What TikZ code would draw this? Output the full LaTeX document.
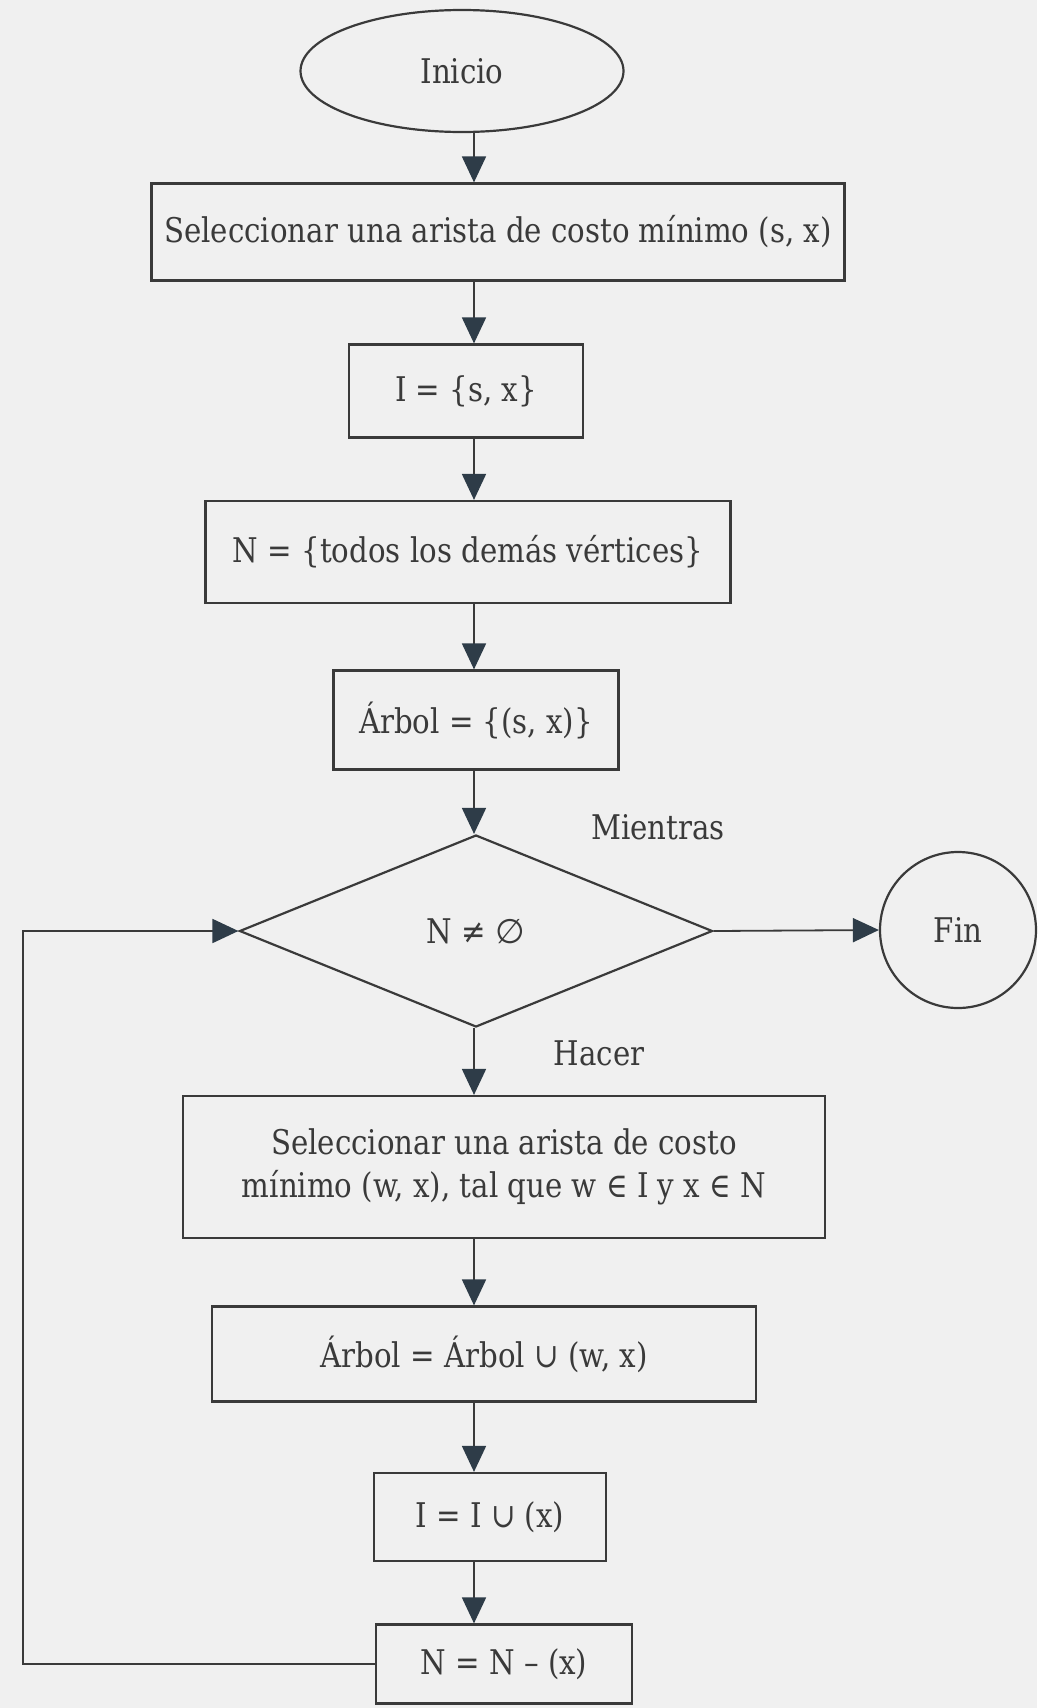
\documentclass[tikz,border=0pt]{standalone}
\usepackage{fontspec}
\setmainfont{DejaVu Serif}[FakeStretch=0.86]
\newfontfamily\symfont{DejaVu Sans}
\usetikzlibrary{arrows.meta,shapes.geometric}
\definecolor{cPaper}{RGB}{240,240,240}
\definecolor{cInk}{RGB}{58,58,58}
\definecolor{cTip}{RGB}{46,60,72}

\begin{document}
\begin{tikzpicture}[x=1pt, y=-1pt,
  base/.style={draw=cInk, line width=2.2pt, text=cInk, inner sep=0pt, align=center,
    font=\fontsize{34}{43}\selectfont},
  proc/.style={base, rectangle},
  term/.style={base, ellipse},
  test/.style={base, diamond, aspect=2.4},
  lbl/.style={text=cInk, inner sep=0pt, font=\fontsize{34}{43}\selectfont},
  arr/.style={draw=cInk, line width=1.8pt, -{Triangle[length=26pt, width=24pt, color=cTip]}}]
  % page
  \fill[cPaper] (0,0) rectangle (1037,1708);
  \useasboundingbox (0,0) rectangle (1037,1708);
  \coordinate (axis) at (474,0);
  \coordinate (back) at (23,0);
  % steps
  \node[term, minimum width=323pt, minimum height=122pt] (ini) at (462,71) {Inicio};
  \node[proc, minimum width=693pt, minimum height=97pt] (sel1) at (498,232) {Seleccionar una arista de costo mínimo (s, x)};
  \node[proc, minimum width=234pt, minimum height=93pt] (iset) at (466,391) {I = \{s, x\}};
  \node[proc, minimum width=525pt, minimum height=102pt] (nset) at (468,552) {N = \{todos los demás vértices\}};
  \node[proc, minimum width=285pt, minimum height=99pt] (arb) at (476,720) {Árbol = \{(s, x)\}};
  \node[test, minimum width=473pt, minimum height=192pt] (cond) at (476,931) {N ≠ {\symfont ∅}};
  \node[base, circle, minimum size=156pt] (fin) at (958,930) {Fin};
  \node[proc, minimum width=642pt, minimum height=142pt] (sel2) at (504,1167) {Seleccionar una arista de costo\\mínimo (w, x), tal que w ∈ I y x ∈ N};
  \node[proc, minimum width=544pt, minimum height=95pt] (arb2) at (484,1354) {Árbol = Árbol ∪ (w, x)};
  \node[proc, minimum width=232pt, minimum height=88pt] (iupd) at (490,1517) {I = I ∪ (x)};
  \node[proc, minimum width=256pt, minimum height=79pt] (nupd) at (504,1664) {N = N – (x)};
  \node[lbl] (mientras) at (658,827) {Mientras};
  \node[lbl] (hacer) at (599,1053) {Hacer};
  % flow
  \foreach \a/\b in {ini/sel1, sel1/iset, iset/nset, nset/arb, arb/cond, cond/sel2, sel2/arb2, arb2/iupd, iupd/nupd}
    \draw[arr] (\a.south -| axis) -- (\b.north -| axis);
  \draw[arr] (cond.east) -- (fin.west);
  \draw[arr] (nupd.west) -- (nupd.west -| back) -- (back |- cond.west) -- (cond.west);
\end{tikzpicture}
\end{document}
